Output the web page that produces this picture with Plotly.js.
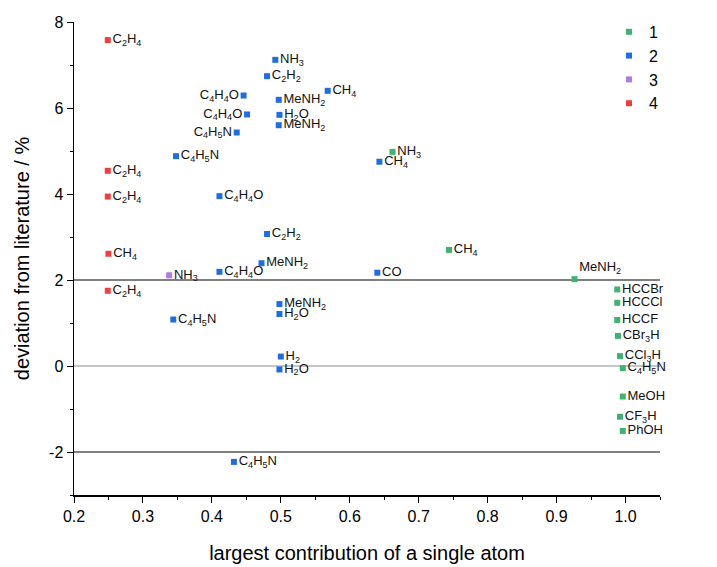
<!DOCTYPE html>
<html>
<head>
<meta charset="utf-8">
<script src="https://cdn.plot.ly/plotly-3.0.1.min.js"></script>
<style>
  html, body { margin: 0; padding: 0; background: #fff; }
  #chart { width: 717px; height: 567px; }
</style>
</head>
<body>
<div id="chart"></div>
<script>
// Group 1
const g1X = [0.662, 0.744, 0.926, 0.988, 0.988, 0.988, 0.989, 0.992, 0.996, 0.996, 0.992, 0.996];
const g1Y = [4.98, 2.70, 2.02, 1.78, 1.47, 1.07, 0.70, 0.23, -0.05, -0.71, -1.18, -1.51];
const g1Labels = ['NH<sub>3</sub>', 'CH<sub>4</sub>', 'MeNH<sub>2</sub>', 'HCCBr', 'HCCCl', 'HCCF',
  'CBr<sub>3</sub>H', 'CCl<sub>3</sub>H', 'C<sub>4</sub>H<sub>5</sub>N', 'MeOH', 'CF<sub>3</sub>H', 'PhOH'];
const g1Pos = ['middle right', 'middle right', 'top right', 'middle right', 'middle right', 'middle right',
  'middle right', 'middle right', 'middle right', 'middle right', 'middle right', 'middle right'];

// Group 2
const g2X = [0.492, 0.480, 0.446, 0.497, 0.568, 0.451, 0.498, 0.497, 0.436, 0.348, 0.643,
  0.411, 0.480, 0.472, 0.411, 0.640, 0.498, 0.498, 0.344, 0.500, 0.498, 0.432];
const g2Y = [7.12, 6.74, 6.29, 6.19, 6.40, 5.85, 5.84, 5.60, 5.43, 4.88, 4.75,
  3.95, 3.07, 2.39, 2.19, 2.17, 1.44, 1.21, 1.08, 0.22, -0.08, -2.23];
const g2Labels = ['NH<sub>3</sub>', 'C<sub>2</sub>H<sub>2</sub>', 'C<sub>4</sub>H<sub>4</sub>O', 'MeNH<sub>2</sub>',
  'CH<sub>4</sub>', 'C<sub>4</sub>H<sub>4</sub>O', 'H<sub>2</sub>O', 'MeNH<sub>2</sub>', 'C<sub>4</sub>H<sub>5</sub>N',
  'C<sub>4</sub>H<sub>5</sub>N', 'CH<sub>4</sub>', 'C<sub>4</sub>H<sub>4</sub>O', 'C<sub>2</sub>H<sub>2</sub>',
  'MeNH<sub>2</sub>', 'C<sub>4</sub>H<sub>4</sub>O', 'CO', 'MeNH<sub>2</sub>', 'H<sub>2</sub>O',
  'C<sub>4</sub>H<sub>5</sub>N', 'H<sub>2</sub>', 'H<sub>2</sub>O', 'C<sub>4</sub>H<sub>5</sub>N'];
const g2Pos = ['middle right', 'middle right', 'middle left', 'middle right', 'middle right', 'middle left',
  'middle right', 'middle right', 'middle left', 'middle right', 'middle right', 'middle right',
  'middle right', 'middle right', 'middle right', 'middle right', 'middle right', 'middle right',
  'middle right', 'middle right', 'middle right', 'middle right'];

// Group 3
const g3X = [0.338];
const g3Y = [2.11];
const g3Labels = ['NH<sub>3</sub>'];
const g3Pos = ['middle right'];

// Group 4
const g4X = [0.249, 0.249, 0.249, 0.250, 0.249];
const g4Y = [7.58, 4.54, 3.94, 2.61, 1.75];
const g4Labels = ['C<sub>2</sub>H<sub>4</sub>', 'C<sub>2</sub>H<sub>4</sub>', 'C<sub>2</sub>H<sub>4</sub>',
  'CH<sub>4</sub>', 'C<sub>2</sub>H<sub>4</sub>'];
const g4Pos = ['middle right', 'middle right', 'middle right', 'middle right', 'middle right'];

const groupNames = ['1', '2', '3', '4'];
const groupColors = ['rgb(60,179,113)', 'rgb(30,110,225)', 'rgb(178,122,230)', 'rgb(240,62,62)'];

const FONT = 'Liberation Sans, Arial, Helvetica, sans-serif';

function series(i, xs, ys, labels, pos) {
  return {
    type: 'scatter',
    mode: 'markers+text',
    name: groupNames[i],
    x: xs, y: ys,
    text: labels,
    textposition: pos,
    textfont: { family: FONT, size: 13, color: '#111' },
    marker: { symbol: 'square', size: 6, color: groupColors[i] },
    cliponaxis: false,
    hoverinfo: 'x+y+text'
  };
}

const data = [
  series(0, g1X, g1Y, g1Labels, g1Pos),
  series(1, g2X, g2Y, g2Labels, g2Pos),
  series(2, g3X, g3Y, g3Labels, g3Pos),
  series(3, g4X, g4Y, g4Labels, g4Pos)
];

const refLines = [
  { y: 2, color: '#000' },
  { y: 0, color: '#8c8c8c' },
  { y: -2, color: '#000' }
];

const layout = {
  width: 717, height: 567,
  margin: { l: 74, r: 57, t: 22, b: 72 },
  paper_bgcolor: '#fff', plot_bgcolor: '#fff',
  font: { family: FONT, size: 16, color: '#000' },
  showlegend: true,
  legend: {
    x: 0.913, y: 1.015, xanchor: 'left', yanchor: 'top',
    bgcolor: 'rgba(0,0,0,0)', font: { family: FONT, size: 16, color: '#000' },
    itemwidth: 30, tracegroupgap: 0
  },
  xaxis: {
    range: [0.2, 1.05],
    tickvals: [0.2, 0.3, 0.4, 0.5, 0.6, 0.7, 0.8, 0.9, 1.0],
    tickformat: '.1f',
    ticks: 'outside', ticklen: 6, tickwidth: 1, tickcolor: '#000',
    minor: { tickvals: [0.25, 0.35, 0.45, 0.55, 0.65, 0.75, 0.85, 0.95, 1.05], ticks: 'outside', ticklen: 3, tickcolor: '#000' },
    showline: true, linecolor: '#000', linewidth: 1.5,
    showgrid: false, zeroline: false,
    tickfont: { family: FONT, size: 16, color: '#000' },
    title: { text: 'largest contribution of a single atom', font: { family: FONT, size: 20, color: '#000' }, standoff: 22 }
  },
  yaxis: {
    range: [-3, 8],
    tickvals: [-2, 0, 2, 4, 6, 8],
    ticktext: ['-2', '0', '2', '4', '6', '8'],
    ticks: 'outside', ticklen: 6, tickwidth: 1, tickcolor: '#000',
    minor: { tickvals: [-3, -1, 1, 3, 5, 7], ticks: 'outside', ticklen: 3, tickcolor: '#000' },
    showline: true, linecolor: '#000', linewidth: 1.5,
    showgrid: false, zeroline: false,
    tickfont: { family: FONT, size: 16, color: '#000' },
    title: { text: 'deviation from literature / %', font: { family: FONT, size: 20, color: '#000' }, standoff: 14 }
  },
  shapes: refLines.map(r => ({
    type: 'line', xref: 'paper', x0: 0, x1: 1, yref: 'y', y0: r.y, y1: r.y,
    line: { color: r.color, width: 1 }, layer: 'below'
  }))
};

Plotly.newPlot('chart', data, layout, { displayModeBar: false, staticPlot: true });
</script>
</body>
</html>
